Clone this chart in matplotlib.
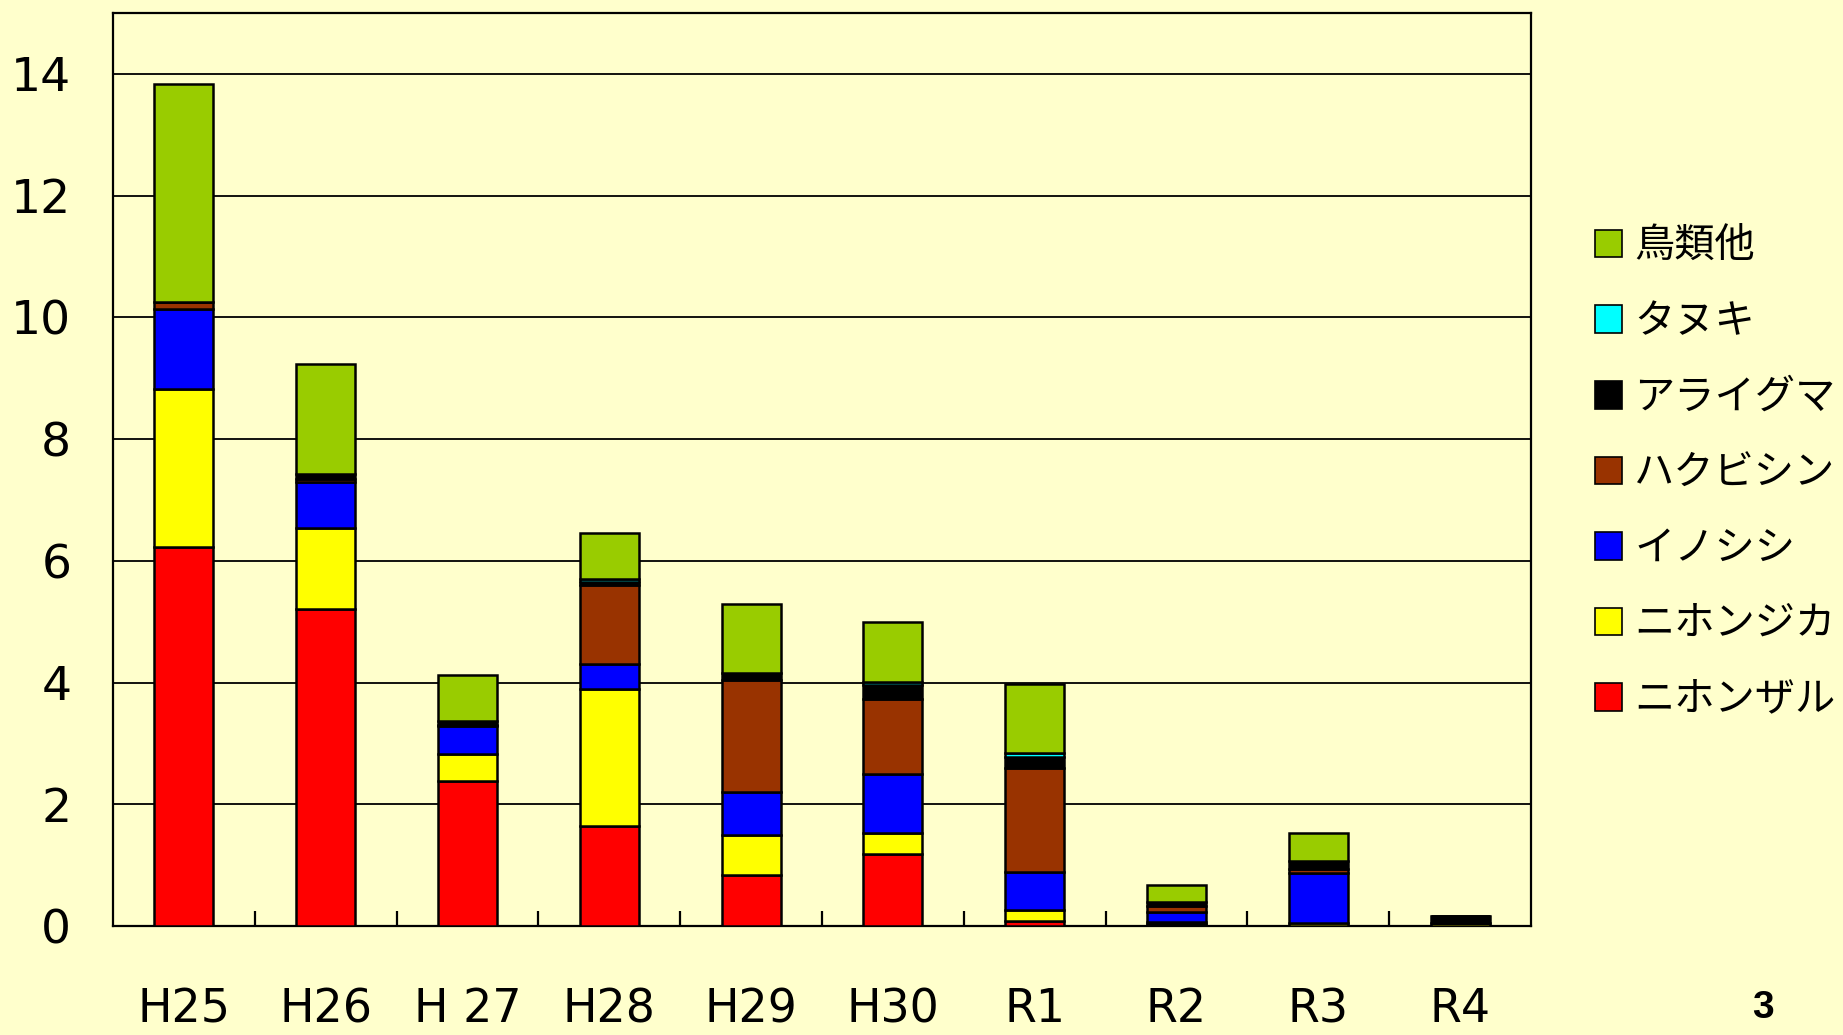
import matplotlib
matplotlib.use("Agg")
import matplotlib.pyplot as plt
import numpy as np
from matplotlib.patches import Patch
from matplotlib.ticker import FixedLocator

categories = ["H25", "H26", "H 27", "H28", "H29", "H30", "R1", "R2", "R3", "R4"]
series_names = ["ニホンザル", "ニホンジカ", "イノシシ", "ハクビシン", "アライグマ", "タヌキ", "鳥類他"]
saru = [6.22, 5.21, 2.38, 1.64, 0.83, 1.18, 0.08, 0.03, 0.00, 0.00]
shika = [2.60, 1.33, 0.45, 2.26, 0.67, 0.35, 0.19, 0.03, 0.05, 0.05]
inoshishi = [1.31, 0.76, 0.46, 0.40, 0.70, 0.96, 0.61, 0.17, 0.82, 0.00]
hakubishin = [0.12, 0.05, 0.01, 1.30, 1.84, 1.24, 1.71, 0.10, 0.07, 0.00]
araiguma = [0.00, 0.08, 0.07, 0.05, 0.12, 0.23, 0.19, 0.06, 0.12, 0.12]
tanuki = [0.00, 0.00, 0.00, 0.05, 0.00, 0.05, 0.06, 0.00, 0.00, 0.00]
chorui = [3.59, 1.80, 0.75, 0.75, 1.13, 0.99, 1.14, 0.28, 0.46, 0.00]
colors = ["#FF0000", "#FFFF00", "#0000FF", "#993300", "#000000", "#00FFFF", "#99CC00"]
yticks = [0, 2, 4, 6, 8, 10, 12, 14]

series = [saru, shika, inoshishi, hakubishin, araiguma, tanuki, chorui]

bg = "#FFFFCC"
fig = plt.figure(figsize=(18.43, 10.35), dpi=100, facecolor=bg)
ax = fig.add_axes([113 / 1843, 1 - 926 / 1035, (1531 - 113) / 1843, (926 - 13) / 1035])
ax.set_facecolor(bg)

x = np.arange(len(categories))
bottom = np.zeros(len(categories))
handles = []
for name, vals, c in zip(series_names, series, colors):
    vals = np.array(vals)
    ax.bar(x, vals, width=0.415, bottom=bottom, color=c, edgecolor="black",
           linewidth=1.8, zorder=3)
    bottom += vals
    handles.append(Patch(facecolor=c, edgecolor="black", linewidth=1.2, label=name))

ax.set_xlim(-0.5, len(categories) - 0.5)
ax.set_ylim(0, 15)
ax.set_yticks(yticks)
ax.set_yticklabels([str(v) for v in yticks])
ax.yaxis.grid(True, color="black", linewidth=1.3)
ax.set_axisbelow(True)
ax.tick_params(axis="y", length=0, pad=30, labelsize=34)
ax.set_xticks(x)
ax.set_xticklabels(categories)
ax.tick_params(axis="x", which="major", length=0, pad=44, labelsize=33)
ax.xaxis.set_minor_locator(FixedLocator(np.arange(0.5, len(categories) - 0.5, 1.0)))
ax.tick_params(axis="x", which="minor", direction="in", length=11, width=1.6)
for s in ax.spines.values():
    s.set_linewidth(1.6)
    s.set_color("black")

leg = fig.legend(handles=handles[::-1], loc="center left",
                 bbox_to_anchor=(1595 / 1843, 1 - 473 / 1035),
                 frameon=False, borderpad=0, borderaxespad=0,
                 handlelength=0.68, handleheight=0.68, handletextpad=0.3,
                 labelspacing=0.86,
                 prop={"family": ["Noto Sans CJK JP", "DejaVu Sans"], "size": 29})

fig.text(1763 / 1843, 1 - 1008 / 1035, "3", ha="center", va="center",
         fontsize=28, fontweight="bold", family="Liberation Sans")

fig.savefig("out.png", dpi=100, facecolor=bg)
